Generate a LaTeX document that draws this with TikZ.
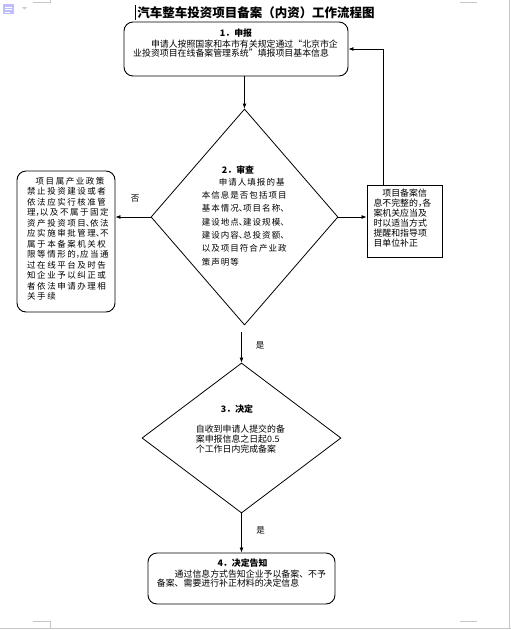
\documentclass[tikz,border=0pt]{standalone}
\usepackage{fontspec}
\setmainfont{Noto Sans CJK SC}
\newfontfamily\lsA[LetterSpace=12]{Noto Sans CJK SC}
\newfontfamily\lsB[LetterSpace=18]{Noto Sans CJK SC}
\usetikzlibrary{shapes.geometric,arrows.meta}
\newcommand\hp[1]{\makebox[0.5em][l]{#1}}
\begin{document}
\begin{tikzpicture}[x=1pt,y=-1pt,
 box/.style={draw, line width=0.9pt, rounded corners=9pt, inner sep=0pt},
 sbox/.style={draw, line width=0.9pt, inner sep=0pt},
 dia/.style={draw, diamond, line width=0.8pt, inner sep=0pt},
 arr/.style={line width=0.8pt, -{Latex[length=5pt,width=4pt]}},
 body/.style={inner sep=0pt, align=left, anchor=west, font=\fontsize{8.9}{9.5}\selectfont},
 head/.style={inner sep=0pt, font=\fontsize{8.9}{9.5}\selectfont\bfseries},
 lab/.style={inner sep=0pt, font=\fontsize{8.5}{9}\selectfont},
 frame/.style={gray!45, line width=0.6pt}]
\useasboundingbox (0,0) rectangle (511,630);

% page frame and UI marks
\draw[frame] (509.5,0) -- (509.5,629);
\draw[frame] (0,628.5) -- (511,628.5);
\draw[frame] (33,2) -- (50,2) -- (50,0);
\draw[frame] (460,2) -- (477,2);
\draw[frame] (33,621) -- (50,621) -- (50,628);
\draw[frame] (460,621) -- (477,621);
\fill[blue!25] (3,4) rectangle (14,14);
\draw[white, line width=0.6pt] (5,7) -- (12,7) (5,9.5) -- (12,9.5) (5,12) -- (10,12);
\fill[gray!40] (22,7) -- (27,7) -- (24.5,9.5) -- cycle;

% title
\draw[line width=1pt] (135.5,5) -- (135.5,20);
\node[inner sep=0pt, font=\fontsize{12.5}{14}\selectfont\bfseries] (title) at (256,13) {汽车整车投资项目备案（内资）工作流程图};

% step 1
\node[box, minimum width=224pt, minimum height=54pt] (b1) at (236,49) {};
\node[head] (b1h) at (236,33.5) {1．申报};
\node[body] (b1t) at (133,48.75) {\hspace*{2em}申请人按照国家和本市有关规定通过“北京市企\\业投资项目在线备案管理系统”填报项目基本信息};

% step 2
\node[dia, minimum width=187pt, minimum height=216pt] (d2) at (244.5,217) {};
\node[head] (d2h) at (238,170) {2．审查};
\node[body, font=\lsA\fontsize{8.5}{13.33}\selectfont] (d2t) at (201.7,222) {\hspace*{2em}申请人填报的基\\本信息是否包括项目\\基本情况\hp{、}项目名称\hp{、}\\建设地点\hp{、}建设规模\hp{、}\\建设内容\hp{、}总投资额\hp{、}\\以及项目符合产业政\\策声明等};

% left box
\node[box, minimum width=98pt, minimum height=141pt] (bl) at (66,241.5) {};
\node[body, font=\lsB\fontsize{8.5}{10.45}\selectfont] (blt) at (27,238.75) {\hspace*{1em}项目属产业政策\\禁止投资建设或者\\依法应实行核准管\\理\hp{，}以及不属于固定\\资产投资项目\hp{、}依法\\应实施审批管理\hp{、}不\\属于本备案机关权\\限等情形的\hp{，}应当通\\过在线平台及时告\\知企业予以纠正或\\者依法申请办理相\\关手续};

% right box
\node[sbox, minimum width=75pt, minimum height=72.5pt] (br) at (404.5,221.25) {};
\node[body, font=\fontsize{8.9}{9.9}\selectfont] (brt) at (373.3,218.25) {\hspace*{1em}项目备案信\\息不完整的\hp{，}各\\案机关应当及\\时以适当方式\\提醒和指导项\\目单位补正};

% step 3
\node[dia, minimum width=199pt, minimum height=150pt] (d3) at (241.5,438) {};
\node[head] (d3h) at (237,409) {3．决定};
\node[body, font=\fontsize{8.9}{10}\selectfont] (d3t) at (195.7,439.3) {自收到申请人提交的备\\案申报信息之日起0.5\\个工作日内完成备案};

% step 4
\node[box, minimum width=187pt, minimum height=51pt] (b4) at (241.5,578.5) {};
\node[head] (b4h) at (242.5,562.7) {4．决定告知};
\node[body, font=\fontsize{8.9}{9.2}\selectfont] (b4t) at (156.7,578.6) {\hspace*{2em}通过信息方式告知企业予以备案、不予\\备案、需要进行补正材料的决定信息};

% labels
\node[lab] (no) at (135,199) {否};
\node[lab] (yes1) at (260,345) {是};
\node[lab] (yes2) at (260.5,530) {是};

% connectors
\coordinate (s23) at ([yshift=-7pt]d2.south);
\draw[arr] (b1.south -| d2.north) -- (d2.north);
\draw[arr] (d2.west) -- (d2.west -| bl.east);
\draw[arr] (d2.east) -- (d2.east -| br.west);
\draw[arr] ([xshift=-21.5pt]br.north) |- (b1.east);
\draw[arr] (s23 -| d3.north) -- (d3.north);
\draw[arr] (d3.south) -- (b4.north);
\end{tikzpicture}
\end{document}
